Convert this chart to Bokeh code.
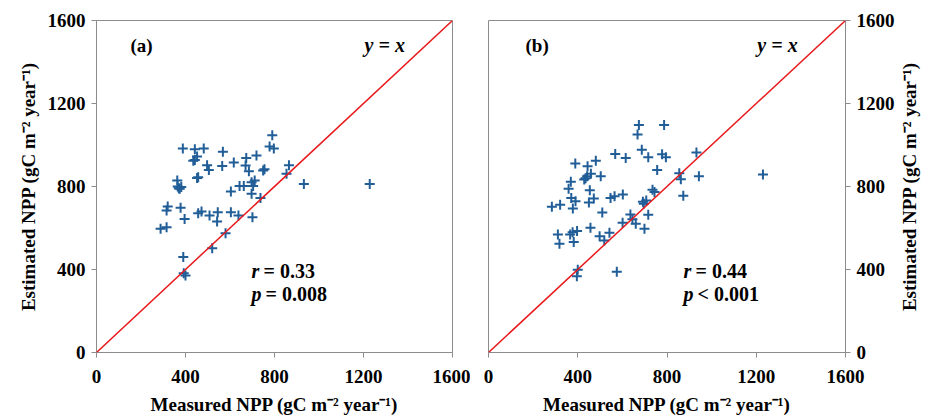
import math
from bokeh.plotting import figure
from bokeh.layouts import row
from bokeh.models import Slope, Label, FixedTicker
from bokeh.embed import file_html
from bokeh.resources import INLINE

# Panel (a) data
a_measured = [388, 442, 482, 568, 790, 778, 797, 452, 435, 442, 497, 505, 565, 617, 673, 719,
              670, 685, 749, 755, 865, 854, 452, 457, 363, 365, 374, 381, 370, 932, 1228,
              697, 711, 704, 697, 643, 662, 604, 737, 320, 315, 378, 396, 457, 472, 508, 545,
              542, 604, 638, 701, 288, 315, 580, 520, 390, 392, 400]
a_estimated = [983, 980, 983, 967, 1047, 993, 983, 945, 924, 928, 903, 880, 899, 916, 937, 949,
               901, 874, 877, 883, 903, 861, 841, 844, 829, 800, 789, 797, 792, 812, 812,
               821, 829, 803, 765, 803, 803, 776, 745, 704, 684, 697, 643, 671, 680, 660, 676,
               631, 676, 660, 652, 596, 604, 575, 503, 460, 382, 371]

# Panel (b) data
b_measured = [674, 787, 668, 687, 568, 615, 716, 778, 795, 932, 389, 444, 481, 459, 442, 429,
              435, 503, 756, 855, 862, 943, 1230, 369, 359, 454, 371, 390, 472, 450, 547, 565,
              602, 735, 744, 692, 707, 696, 873, 284, 321, 378, 510, 716, 636, 645, 601, 660,
              699, 457, 311, 318, 366, 377, 397, 382, 498, 519, 542, 400, 396, 575]
b_estimated = [1096, 1096, 1051, 977, 957, 937, 941, 956, 941, 964, 911, 898, 924, 861, 850, 834,
               840, 850, 880, 864, 835, 850, 858, 823, 789, 782, 744, 729, 742, 723, 744, 753,
               761, 784, 774, 726, 733, 717, 755, 702, 712, 694, 675, 664, 665, 642, 625, 620,
               596, 601, 569, 524, 569, 580, 585, 532, 560, 540, 577, 399, 368, 389]

ticks = [0, 400, 800, 1200, 1600]
x_label = "Measured NPP (gC m\u207b\u00b2 year\u207b\u00b9)"
y_label = "Estimated NPP (gC m\u207b\u00b2 year\u207b\u00b9)"

FONT = "Liberation Serif"
MARK = "#215e98"
FS = "19px"
TOP, BOTTOM, FH = 20, 66, 332


def add_text(p, x, y, text, style, x_offset=0, size="20px"):
    p.add_layout(Label(x=x, y=y, text=text, text_font=FONT, text_font_size=size,
                       text_font_style=style, text_baseline="middle", text_color="black",
                       x_offset=x_offset))


def make_panel(xs, ys, tag, r_val, p_val, yloc, left, right, fw, tx, rx):
    p = figure(frame_width=fw, frame_height=FH, x_range=(0, 1600), y_range=(0, 1600),
               output_backend="svg", toolbar_location=None, y_axis_location=yloc,
               min_border_left=left, min_border_right=right, min_border_top=TOP,
               min_border_bottom=BOTTOM)
    p.grid.visible = False
    p.outline_line_color = "#8c8c8c"
    p.outline_line_width = 1
    for ax in (p.xaxis[0], p.yaxis[0]):
        ax.ticker = FixedTicker(ticks=ticks)
        ax.minor_tick_line_color = None
        ax.major_tick_out = 5
        ax.major_tick_in = 0
        ax.axis_line_color = "#8c8c8c"
        ax.major_tick_line_color = "#8c8c8c"
        ax.major_label_text_font = FONT
        ax.major_label_text_font_style = "bold"
        ax.major_label_text_font_size = FS
        ax.major_label_text_color = "black"
        ax.axis_label_text_font = FONT
        ax.axis_label_text_font_style = "bold"
        ax.axis_label_text_font_size = FS
        ax.axis_label_text_color = "black"
    p.xaxis.axis_label = x_label
    p.xaxis.major_label_standoff = 12
    p.xaxis.axis_label_standoff = 8
    p.yaxis.major_label_standoff = 6
    if yloc == "left":
        p.yaxis.axis_label = y_label
        p.yaxis.axis_label_standoff = 6

    p.add_layout(Slope(gradient=1, y_intercept=0, line_color="#e8191c", line_width=1.5))
    p.scatter(xs, ys, marker="cross", size=10, line_width=2, line_color=MARK)

    add_text(p, tx, 1480, tag, "bold", size="19px")
    add_text(p, 1205, 1480, "y = x", "bold italic")
    add_text(p, rx, 395, "r", "bold italic")
    add_text(p, rx, 395, "= " + r_val, "bold", x_offset=12)
    add_text(p, rx, 284, "p", "bold italic")
    add_text(p, rx, 284, p_val, "bold", x_offset=14)
    return p


pa = make_panel(a_measured, a_estimated, "(a)", "0.33", "= 0.008", "left", 96, 18, 356, 153, 697)
pb = make_panel(b_measured, b_estimated, "(b)", "0.44", "< 0.001", "right", 18, 52, 357, 166, 874)

# narrow strip holding the right-hand y title, reading bottom-to-top
pc = figure(frame_width=26, frame_height=FH, x_range=(0, 1), y_range=(0, 1),
            output_backend="svg", toolbar_location=None, min_border_left=0,
            min_border_right=0, min_border_top=TOP, min_border_bottom=BOTTOM)
pc.axis.visible = False
pc.grid.visible = False
pc.outline_line_color = None
pc.add_layout(Label(x=0.5, y=0.5, x_offset=-1, text=y_label, angle=math.pi / 2,
                    text_align="center", text_baseline="middle", text_font=FONT,
                    text_font_size=FS, text_font_style="bold", text_color="black"))

layout = row(pa, pb, pc, spacing=0)
open("out.html", "w").write(file_html(layout, INLINE))
